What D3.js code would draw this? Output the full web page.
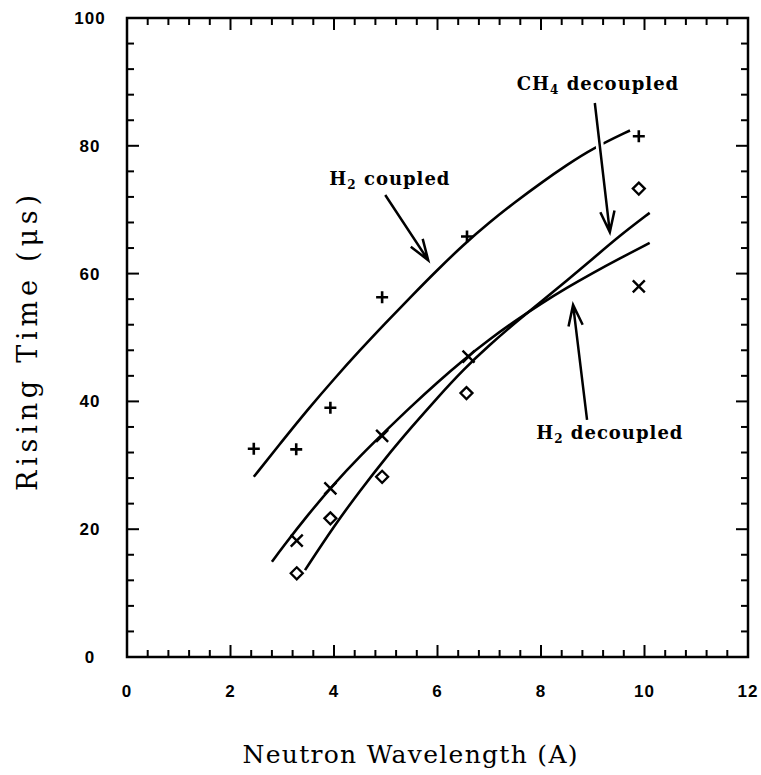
<!DOCTYPE html>
<html>
<head>
<meta charset="utf-8">
<script src="https://cdn.jsdelivr.net/npm/d3@7"></script>
<style>
body{margin:0;background:#fff}
</style>
</head>
<body>
<svg></svg>
<script>

// measured points (wavelength A, rising time us)
var h2CoupledPts = [[2.45,32.6],[3.27,32.5],[3.93,39.0],[4.93,56.3],[6.57,65.8],[9.89,81.5]]
var ch4DecoupledPts = [[3.28,13.1],[3.93,21.7],[4.93,28.2],[6.56,41.3],[9.89,73.3]]
var h2DecoupledPts = [[3.28,18.2],[3.93,26.4],[4.93,34.6],[6.6,47.0],[9.89,58.0]]

// fitted curves
var h2CoupledCurve = [[2.45,28.2],[3,33.8],[3.5,38.8],[4,43.5],[4.5,48.0],[5,52.3],[5.5,56.5],[6,60.6],[6.5,64.5],[7,68.0],[7.5,71.2],[8,74.2],[8.5,77.0],[9,79.6],[9.72,82.4]]
var ch4DecoupledCurve = [[3.44,13.6],[4,20.5],[4.5,26.0],[5,31.2],[5.5,36.0],[6,40.6],[6.5,45.0],[7,48.8],[7.5,52.3],[8,55.6],[8.5,58.9],[9,62.3],[9.5,65.8],[10.1,69.5]]
var h2DecoupledCurve = [[2.8,14.9],[3,17.1],[3.5,22.3],[4,27.1],[4.5,31.4],[5,35.4],[5.5,39.3],[6,43.0],[6.5,46.5],[7,49.7],[7.5,52.6],[8,55.3],[8.5,57.8],[9,60.1],[9.5,62.3],[10.1,64.8]]

var xTicks = [0,2,4,6,8,10,12]
var yTicks = [0,20,40,60,80,100]

// curve labels with arrows (data units)
var notes = [
  {pre:"H", sub:"2", post:" coupled", x:5.08, y:73.9, tail:[4.99,72.3], tip:[5.82,62.1]},
  {pre:"CH", sub:"4", post:" decoupled", x:9.1, y:88.7, tail:[9.04,86.7], tip:[9.33,66.5]},
  {pre:"H", sub:"2", post:" decoupled", x:9.33, y:34.1, tail:[8.89,37.1], tip:[8.62,55.1]}
]

var screen = {width:761, height:775}
var box = {left:127, right:748, top:18, bottom:657}

var svg = d3.select("svg")
  .attr("width", screen.width)
  .attr("height", screen.height)

var xScale = d3.scaleLinear().domain([0,12]).range([box.left, box.right])
var yScale = d3.scaleLinear().domain([0,100]).range([box.bottom, box.top])

// ticks, all four sides, pointing in
var xMinor = d3.range(0, 12.01, 0.4)
var yMinor = d3.range(0, 100.1, 4)

var tickLen = function(v, step){
  return Math.abs(v/step - Math.round(v/step)) < 1e-6 ? 12 : 7
}

var axisG = svg.append("g").attr("stroke","#000").attr("stroke-width",2)

axisG.selectAll(".xb").data(xMinor).enter().append("line")
  .attr("x1", function(d){return xScale(d)}).attr("x2", function(d){return xScale(d)})
  .attr("y1", box.bottom).attr("y2", function(d){return box.bottom - tickLen(d,2)})
axisG.selectAll(".xt").data(xMinor).enter().append("line")
  .attr("x1", function(d){return xScale(d)}).attr("x2", function(d){return xScale(d)})
  .attr("y1", box.top).attr("y2", function(d){return box.top + tickLen(d,2)})
axisG.selectAll(".yl").data(yMinor).enter().append("line")
  .attr("y1", function(d){return yScale(d)}).attr("y2", function(d){return yScale(d)})
  .attr("x1", box.left).attr("x2", function(d){return box.left + tickLen(d,20)})
axisG.selectAll(".yr").data(yMinor).enter().append("line")
  .attr("y1", function(d){return yScale(d)}).attr("y2", function(d){return yScale(d)})
  .attr("x1", box.right).attr("x2", function(d){return box.right - tickLen(d,20)})

svg.append("rect")
  .attr("x", box.left).attr("y", box.top)
  .attr("width", box.right-box.left).attr("height", box.bottom-box.top)
  .attr("fill","none").attr("stroke","#000").attr("stroke-width",2.5)

// tick labels
svg.selectAll(".xl").data(xTicks).enter().append("text")
  .attr("x", function(d){return xScale(d)})
  .attr("y", 697)
  .attr("text-anchor","middle")
  .attr("font-family","Liberation Sans, Arial, sans-serif")
  .attr("font-weight","bold").attr("font-size",17)
  .attr("letter-spacing",1)
  .text(function(d){return d})

svg.selectAll(".ylab").data(yTicks).enter().append("text")
  .attr("x", 90)
  .attr("y", function(d){return yScale(d)+6})
  .attr("text-anchor","middle")
  .attr("font-family","Liberation Sans, Arial, sans-serif")
  .attr("font-weight","bold").attr("font-size",17)
  .attr("letter-spacing",1)
  .text(function(d){return d})

// axis titles
svg.append("text")
  .attr("x", 410).attr("y", 763)
  .attr("text-anchor","middle")
  .attr("font-family","DejaVu Serif, serif")
  .attr("font-size",25)
  .attr("textLength",335).attr("lengthAdjust","spacing")
  .text("Neutron Wavelength (A)")

svg.append("text")
  .attr("transform","translate(37,343) rotate(-90)")
  .attr("text-anchor","middle")
  .attr("font-family","DejaVu Serif, serif")
  .attr("font-size",27)
  .attr("textLength",296).attr("lengthAdjust","spacing")
  .text("Rising Time (\u03bcs)")

// curves
var line = d3.line()
  .x(function(d){return xScale(d[0])})
  .y(function(d){return yScale(d[1])})
  .curve(d3.curveBasis)

var curves = [h2CoupledCurve, ch4DecoupledCurve, h2DecoupledCurve]
svg.selectAll(".curve").data(curves).enter().append("path")
  .attr("d", function(d){return line(d)})
  .attr("fill","none").attr("stroke","#000").attr("stroke-width",2.6)

// markers
svg.selectAll(".plus").data(h2CoupledPts).enter().append("path")
  .attr("transform", function(d){return "translate("+xScale(d[0])+","+yScale(d[1])+")"})
  .attr("d","M-6,0H6M0,-6V6")
  .attr("stroke","#000").attr("stroke-width",2.6)

svg.selectAll(".diam").data(ch4DecoupledPts).enter().append("path")
  .attr("transform", function(d){return "translate("+xScale(d[0])+","+yScale(d[1])+")"})
  .attr("d","M0,-6L6,0L0,6L-6,0Z")
  .attr("fill","none").attr("stroke","#000").attr("stroke-width",2.3)

svg.selectAll(".cross").data(h2DecoupledPts).enter().append("path")
  .attr("transform", function(d){return "translate("+xScale(d[0])+","+yScale(d[1])+")"})
  .attr("d","M-6,-6L6,6M-6,6L6,-6")
  .attr("stroke","#000").attr("stroke-width",2.4)

// annotations
var arrowPath = function(d){
  var x1 = xScale(d.tail[0]), y1 = yScale(d.tail[1])
  var x2 = xScale(d.tip[0]), y2 = yScale(d.tip[1])
  var a = Math.atan2(y2-y1, x2-x1)
  var L = 22, w = 0.33
  var bx1 = x2 - L*Math.cos(a-w), by1 = y2 - L*Math.sin(a-w)
  var bx2 = x2 - L*Math.cos(a+w), by2 = y2 - L*Math.sin(a+w)
  return "M"+x1+","+y1+"L"+x2+","+y2+"M"+bx1+","+by1+"L"+x2+","+y2+"L"+bx2+","+by2
}

var ann = svg.selectAll(".note").data(notes).enter().append("g")

ann.append("path")
  .attr("d", function(d){
    return "M"+xScale(d.tail[0])+","+yScale(d.tail[1])+"L"+xScale(d.tip[0])+","+yScale(d.tip[1])
  })
  .attr("stroke","#fff").attr("stroke-width",8)
ann.append("path")
  .attr("d", arrowPath)
  .attr("fill","none").attr("stroke","#000").attr("stroke-width",2.5)

var t = ann.append("text")
  .attr("x", function(d){return xScale(d.x)})
  .attr("y", function(d){return yScale(d.y)})
  .attr("text-anchor","middle")
  .attr("font-family","DejaVu Serif, serif")
  .attr("font-weight","bold").attr("font-size",18)
  .attr("letter-spacing",1)
t.append("tspan").text(function(d){return d.pre})
t.append("tspan").attr("font-size",12).attr("dy",4).text(function(d){return d.sub})
t.append("tspan").attr("dy",-4).text(function(d){return d.post})

</script>
</body>
</html>
